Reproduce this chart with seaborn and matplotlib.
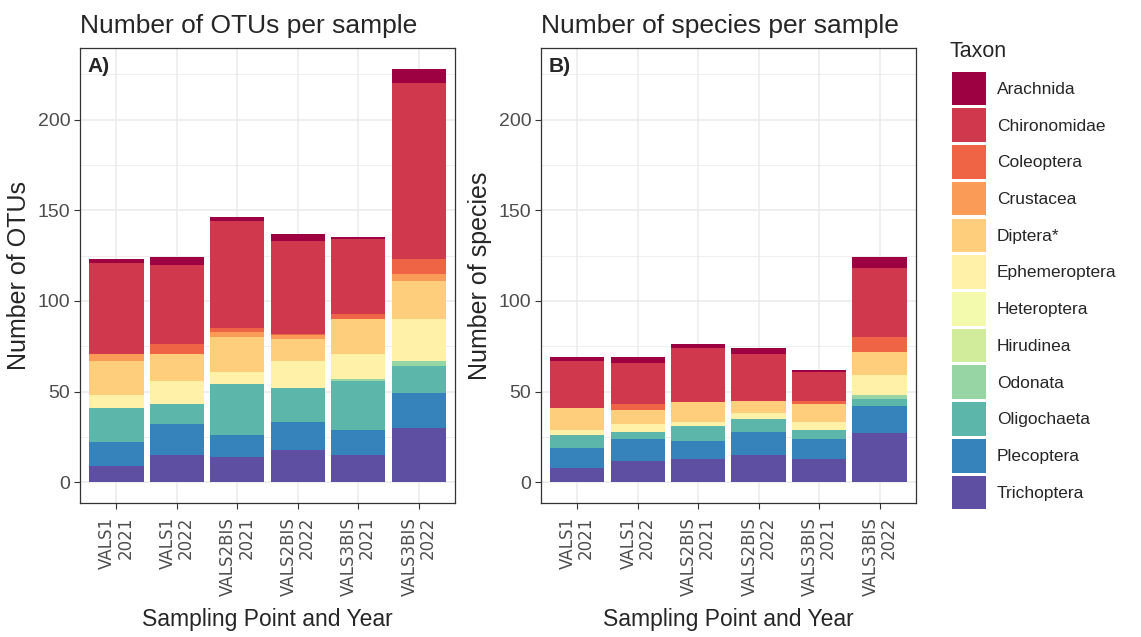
import numpy as np
import pandas as pd
import matplotlib
matplotlib.use("Agg")
import matplotlib.pyplot as plt
from matplotlib.patches import Patch
from matplotlib.ticker import MultipleLocator
import seaborn as sns

# ---------------- data ----------------
samples = ["VALS1\n2021", "VALS1\n2022", "VALS2BIS\n2021", "VALS2BIS\n2022",
           "VALS3BIS\n2021", "VALS3BIS\n2022"]
taxa = ["Arachnida", "Chironomidae", "Coleoptera", "Crustacea", "Diptera*",
        "Ephemeroptera", "Heteroptera", "Hirudinea", "Odonata", "Oligochaeta",
        "Plecoptera", "Trichoptera"]

# Panel A: number of OTUs per sample (per taxon, one value per sample)
otu_arachnida     = [2, 4, 2, 4, 1, 8]
otu_chironomidae  = [50, 44, 59, 51, 41, 97]
otu_coleoptera    = [0, 5, 2, 1, 3, 8]
otu_crustacea     = [4, 0, 3, 2, 0, 4]
otu_diptera       = [19, 15, 19, 12, 19, 21]
otu_ephemeroptera = [7, 13, 7, 15, 14, 23]
otu_heteroptera   = [0, 0, 0, 0, 0, 0]
otu_hirudinea     = [0, 0, 0, 0, 0, 0]
otu_odonata       = [0, 0, 0, 0, 1, 3]
otu_oligochaeta   = [19, 11, 28, 19, 27, 15]
otu_plecoptera    = [13, 17, 12, 15, 14, 19]
otu_trichoptera   = [9, 15, 14, 18, 15, 30]

# Panel B: number of species per sample
sp_arachnida     = [2, 3, 2, 3, 1, 6]
sp_chironomidae  = [26, 23, 30, 26, 16, 38]
sp_coleoptera    = [0, 3, 0, 0, 2, 8]
sp_crustacea     = [0, 0, 0, 0, 0, 0]
sp_diptera       = [12, 8, 11, 7, 10, 13]
sp_ephemeroptera = [3, 4, 2, 3, 4, 11]
sp_heteroptera   = [0, 0, 0, 0, 0, 0]
sp_hirudinea     = [0, 0, 0, 0, 0, 0]
sp_odonata       = [0, 0, 0, 0, 0, 2]
sp_oligochaeta   = [7, 4, 8, 7, 5, 4]
sp_plecoptera    = [11, 12, 10, 13, 11, 15]
sp_trichoptera   = [8, 12, 13, 15, 13, 27]

otu_values = [otu_arachnida, otu_chironomidae, otu_coleoptera, otu_crustacea,
              otu_diptera, otu_ephemeroptera, otu_heteroptera, otu_hirudinea,
              otu_odonata, otu_oligochaeta, otu_plecoptera, otu_trichoptera]
sp_values = [sp_arachnida, sp_chironomidae, sp_coleoptera, sp_crustacea,
             sp_diptera, sp_ephemeroptera, sp_heteroptera, sp_hirudinea,
             sp_odonata, sp_oligochaeta, sp_plecoptera, sp_trichoptera]


def to_long(values):
    rows = []
    for t, vals in zip(taxa, values):
        for i, v in enumerate(vals):
            rows.append({"idx": i, "Taxon": t, "count": v})
    return pd.DataFrame(rows)


dfA = to_long(otu_values)
dfB = to_long(sp_values)

# ---------------- style ----------------
sns.set_theme(style="white")
plt.rcParams["font.family"] = ["Liberation Sans", "DejaVu Sans"]

cmap = matplotlib.colormaps["Spectral"]
palette = {t: cmap(v) for t, v in zip(taxa, np.linspace(0, 1, len(taxa)))}

fig = plt.figure(figsize=(11.41, 6.37), dpi=100)
axA = fig.add_axes([0.0701, 0.2104, 0.3287, 0.7142])
axB = fig.add_axes([0.4741, 0.2104, 0.3287, 0.7142])


def draw(ax, df, title, ylabel, tag):
    sns.histplot(data=df, x="idx", weights="count", hue="Taxon",
                 hue_order=taxa, palette=palette, multiple="stack",
                 discrete=True, shrink=0.9, linewidth=0, alpha=1,
                 legend=False, ax=ax, zorder=3)
    ax.set_xlim(-0.6, len(samples) - 0.4)
    ax.set_ylim(-11.4, 239.4)
    ax.set_xticks(range(len(samples)))
    ax.set_xticklabels(samples, rotation=90, ha="center", va="top",
                       multialignment="right", fontsize=12, color="#4D4D4D",
                       family=["DejaVu Sans"], linespacing=1.0)
    ax.set_yticks([0, 50, 100, 150, 200])
    ax.yaxis.set_minor_locator(MultipleLocator(25))
    ax.tick_params(axis="y", labelsize=14, colors="#4D4D4D", length=4,
                   width=0.8, color="#333333", left=True, pad=3)
    ax.tick_params(axis="x", length=4, width=0.8, color="#333333",
                   bottom=True, pad=6)
    ax.tick_params(which="minor", length=0)
    ax.grid(True, which="major", color="#EBEBEB", linewidth=1.1, zorder=0)
    ax.grid(True, which="minor", axis="y", color="#EBEBEB", linewidth=0.6,
            zorder=0)
    ax.set_axisbelow(True)
    for s in ax.spines.values():
        s.set_color("#333333")
        s.set_linewidth(0.9)
    ax.set_title(title, loc="left", fontsize=19, pad=11)
    ax.set_ylabel(ylabel, fontsize=18, labelpad=5)
    ax.set_xlabel("Sampling Point and Year", fontsize=16.5, labelpad=9)
    ax.text(0.02, 0.98, tag, transform=ax.transAxes, ha="left", va="top",
            fontsize=15, fontweight="bold", zorder=5)


draw(axA, dfA, "Number of OTUs per sample", "Number of OTUs", "A)")
draw(axB, dfB, "Number of species per sample", "Number of species", "B)")

fig.text(950 / 1141, 1 - 57 / 637, "Taxon", ha="left", va="baseline",
         fontsize=15.5)
handles = [Patch(facecolor=palette[t], edgecolor="none") for t in taxa]
fig.legend(handles, taxa, loc="upper left",
           bbox_to_anchor=(950 / 1141, 1 - 70 / 637),
           frameon=False, fontsize=12.5,
           handlelength=2.0, handleheight=2.6, labelspacing=0.18,
           handletextpad=0.6, borderaxespad=0, borderpad=0.1)

fig.savefig("out.png", dpi=100)
